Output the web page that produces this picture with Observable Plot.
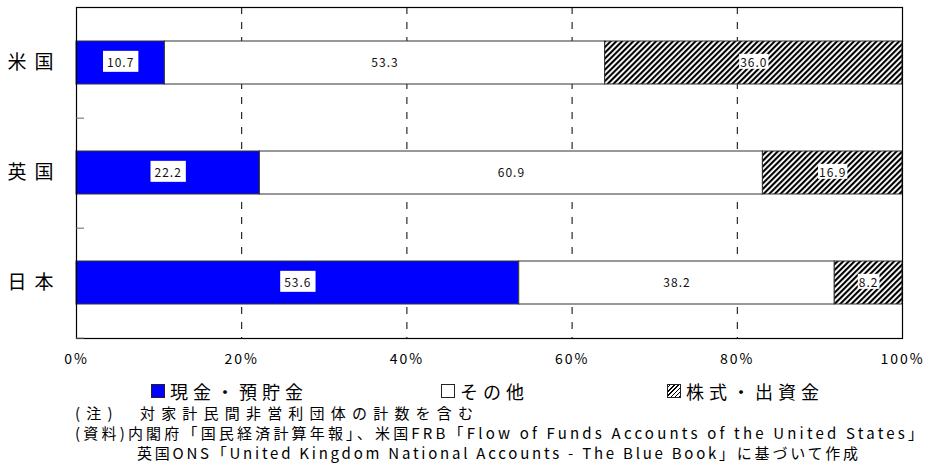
<!DOCTYPE html>
<html>
<head>
<meta charset="utf-8">
<script src="https://cdn.jsdelivr.net/npm/d3@7"></script>
<script src="https://cdn.jsdelivr.net/npm/@observablehq/plot@0.6"></script>
<style>
  body { margin: 0; background: #fff; }
  #wrap { position: relative; width: 926px; height: 466px; font-family: "Noto Sans CJK JP", sans-serif; color: #000; }
  #chart svg { display: block; }
  .legend-item { position: absolute; top: 380px; font-size: 18px; letter-spacing: 5px; white-space: nowrap; line-height: 22px; display: flex; align-items: center; }
  .swatch { display: inline-block; width: 14px; height: 14px; border: 1px solid #222; box-sizing: border-box; margin-right: 5px; }
  .note { position: absolute; font-size: 15px; white-space: nowrap; line-height: 20px; }
</style>
</head>
<body>
<div id="wrap">
  <div id="chart"></div>
  <div id="legend"></div>
  <div id="notes"></div>
</div>
<script>
// Household financial asset composition (%)
const countries = ["米国", "英国", "日本"];
const categories = ["現金・預貯金", "その他", "株式・出資金"];
const cashDeposits = [10.7, 22.2, 53.6];
const others = [53.3, 60.9, 38.2];
const equities = [36.0, 16.9, 8.2];
const xTicks = [0, 20, 40, 60, 80, 100];
const gridTicks = [20, 40, 60, 80];
const noteLines = [
  "(注)　対家計民間非営利団体の計数を含む",
  "(資料)内閣府「国民経済計算年報」、米国FRB「Flow of Funds Accounts of the United States」",
  "英国ONS「United Kingdom National Accounts - The Blue Book」に基づいて作成"
];

const seriesValues = [cashDeposits, others, equities];
const rows = countries.flatMap((country, i) =>
  categories.map((cat, j) => ({country, cat, value: seriesValues[j][i]}))
);

const W = 926, H = 376, mTop = 7, mBottom = 38, mLeft = 76, mRight = 24;
const halfStep = (H - mTop - mBottom) / countries.length / 2;

const chart = Plot.plot({
  width: W,
  height: H,
  marginLeft: mLeft,
  marginRight: mRight,
  marginTop: mTop,
  marginBottom: mBottom,
  style: {fontFamily: '"Noto Sans CJK JP", sans-serif', color: "#000", background: "#fff", overflow: "visible"},
  x: {domain: [0, 100]},
  y: {domain: countries, paddingInner: 0.61, paddingOuter: 0.305},
  color: {domain: categories, range: ["#0000ff", "#ffffff", "url(#hatch)"]},
  marks: [
    Plot.ruleX(gridTicks, {stroke: "#000", strokeWidth: 1, strokeDasharray: "7,8"}),
    Plot.barX(rows, Plot.stackX({
      x: "value", y: "country", fill: "cat", order: categories,
      stroke: "#333", strokeWidth: 1
    })),
    Plot.text(rows, Plot.stackX({
      x: "value", y: "country", z: "cat", order: categories,
      text: d => d.value.toFixed(1), fill: "#111", fontSize: 12
    })),
    Plot.frame({stroke: "#000", strokeWidth: 1.2}),
    Plot.axisX({ticks: xTicks, tickFormat: d => d + "%", tickSize: 0, tickPadding: 16, fontSize: 14, label: null}),
    Plot.axisY({tickSize: 0, tickPadding: 15, fontSize: 19, label: null}),
    Plot.axisY({tickSize: 8, dx: 8, dy: halfStep, stroke: "#666", tickFormat: () => "", label: null})
  ]
});

document.getElementById("chart").appendChild(chart);

// diagonal hatch pattern for the equity segments
const svgNS = "http://www.w3.org/2000/svg";
const defs = document.createElementNS(svgNS, "defs");
defs.innerHTML = `<pattern id="hatch" patternUnits="userSpaceOnUse" width="4" height="4" patternTransform="rotate(45)">
  <rect width="4" height="4" fill="#fff"/>
  <rect width="2.1" height="4" fill="#000"/>
</pattern>`;
chart.insertBefore(defs, chart.firstChild);

// letter spacing on axis labels
chart.querySelectorAll('[aria-label="x-axis tick label"] text').forEach(t => t.setAttribute("letter-spacing", "2"));
chart.querySelectorAll('[aria-label="y-axis tick label"] text').forEach(t => t.setAttribute("letter-spacing", "8"));

// white boxes behind the cash and equity value labels
const labels = chart.querySelectorAll('g[aria-label="text"] text');
labels.forEach((t, i) => {
  t.setAttribute("letter-spacing", "1");
  const k = i % categories.length;
  if (k === 1) return;
  const b = t.getBBox();
  const px = k === 0 ? 4 : 1, py = k === 0 ? 2 : -1;
  const r = document.createElementNS(svgNS, "rect");
  r.setAttribute("x", b.x - px);
  r.setAttribute("y", b.y - py);
  r.setAttribute("width", b.width + 2 * px);
  r.setAttribute("height", b.height + 2 * py);
  r.setAttribute("fill", "#fff");
  const tr = t.getAttribute("transform");
  if (tr) r.setAttribute("transform", tr);
  t.parentNode.insertBefore(r, t);
});

// legend
const swatchStyles = [
  "background:#0000ff;",
  "background:#fff;",
  "background:repeating-linear-gradient(-45deg,#000 0 1px,#fff 1px 3px);"
];
const legendLeft = [151, 441, 667];
const legend = document.getElementById("legend");
categories.forEach((c, i) => {
  const item = document.createElement("div");
  item.className = "legend-item";
  item.style.left = legendLeft[i] + "px";
  item.innerHTML = `<span class="swatch" style="${swatchStyles[i]}"></span><span>${c}</span>`;
  legend.appendChild(item);
});

// source notes, each line spread to its own width
const noteTop = [403, 423, 443];
const noteLeft = [75, 75, 137];
const noteRight = [473, 923, 858];
const notes = document.getElementById("notes");
noteLines.forEach((s, i) => {
  const d = document.createElement("div");
  d.className = "note";
  d.style.top = noteTop[i] + "px";
  d.style.left = noteLeft[i] + "px";
  d.textContent = s;
  notes.appendChild(d);
  const n = [...s].length;
  const natural = d.getBoundingClientRect().width;
  const ls = (noteRight[i] - noteLeft[i] - natural) / (n - 1);
  d.style.letterSpacing = ls + "px";
});
</script>
</body>
</html>
